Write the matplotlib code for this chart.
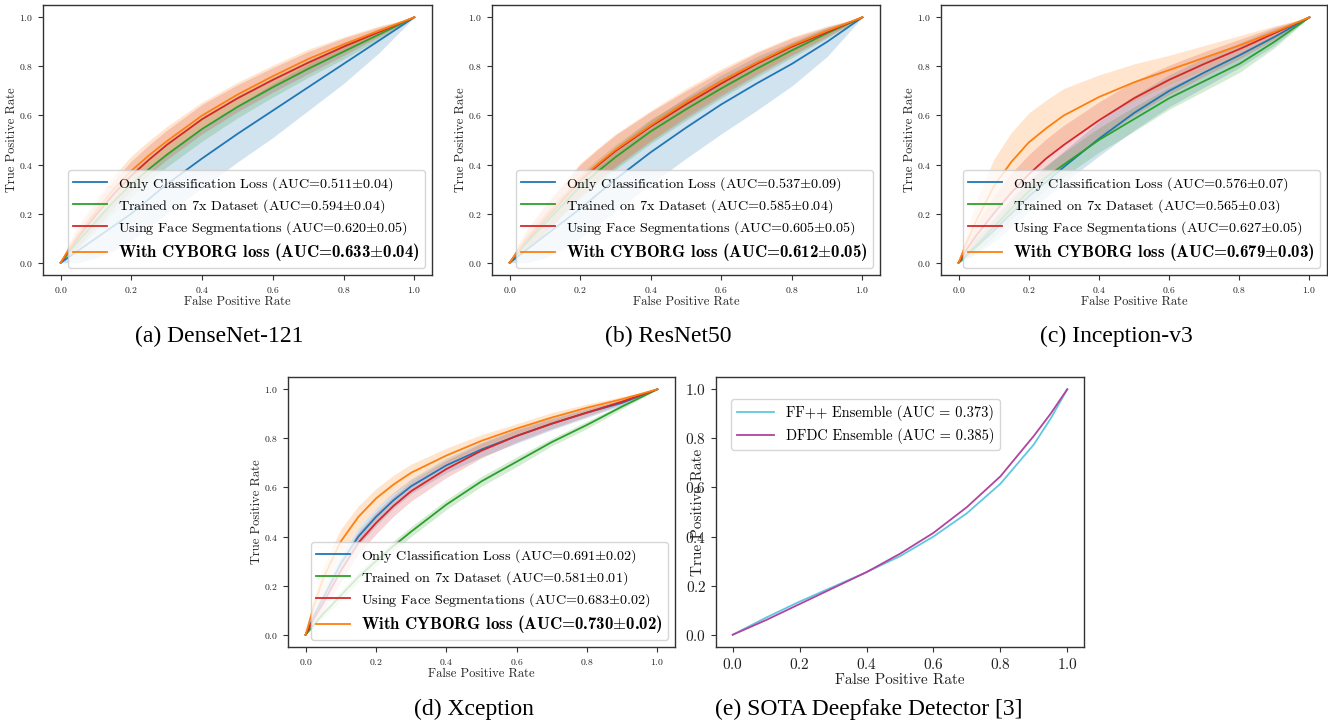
import numpy as np
import matplotlib.pyplot as plt

plt.rcParams['mathtext.fontset'] = 'cm'
plt.rcParams['axes.formatter.use_mathtext'] = True

FPR = [0, 0.025, 0.05, 0.1, 0.15, 0.2, 0.25, 0.3, 0.4, 0.5, 0.6, 0.7, 0.8, 0.9, 1.0]

names = ['Only Classification Loss', 'Trained on 7x Dataset',
         'Using Face Segmentations', 'With CYBORG loss']
colors = ['tab:blue', 'tab:green', 'tab:red', 'tab:orange']

# (a) DenseNet-121
a_tpr = [
    [0, 0.025, 0.05, 0.1, 0.15, 0.2, 0.26, 0.32, 0.425, 0.525, 0.62, 0.715, 0.81, 0.905, 1],
    [0, 0.047, 0.09, 0.17, 0.25, 0.32, 0.382, 0.44, 0.545, 0.635, 0.715, 0.79, 0.86, 0.93, 1],
    [0, 0.055, 0.105, 0.195, 0.28, 0.355, 0.42, 0.48, 0.585, 0.67, 0.745, 0.815, 0.88, 0.94, 1],
    [0, 0.06, 0.115, 0.21, 0.3, 0.375, 0.438, 0.495, 0.6, 0.685, 0.76, 0.83, 0.89, 0.945, 1],
]
a_std = [
    [0, 0.03, 0.05, 0.08, 0.1, 0.11, 0.115, 0.12, 0.12, 0.115, 0.11, 0.095, 0.08, 0.05, 0],
    [0, 0.02, 0.03, 0.04, 0.045, 0.05, 0.05, 0.05, 0.05, 0.045, 0.04, 0.035, 0.03, 0.02, 0],
    [0, 0.025, 0.04, 0.05, 0.055, 0.06, 0.06, 0.06, 0.06, 0.055, 0.05, 0.045, 0.035, 0.02, 0],
    [0, 0.025, 0.04, 0.05, 0.055, 0.06, 0.06, 0.06, 0.055, 0.05, 0.045, 0.04, 0.03, 0.02, 0],
]
a_auc = ['0.511', '0.594', '0.620', '0.633']
a_aucstd = ['0.04', '0.04', '0.05', '0.04']

# (b) ResNet50
b_tpr = [
    [0, 0.028, 0.055, 0.11, 0.165, 0.22, 0.28, 0.34, 0.45, 0.55, 0.645, 0.73, 0.81, 0.9, 1],
    [0, 0.045, 0.085, 0.16, 0.235, 0.31, 0.372, 0.43, 0.535, 0.625, 0.71, 0.79, 0.865, 0.935, 1],
    [0, 0.05, 0.095, 0.175, 0.255, 0.335, 0.397, 0.455, 0.555, 0.645, 0.73, 0.81, 0.88, 0.94, 1],
    [0, 0.052, 0.1, 0.18, 0.26, 0.34, 0.402, 0.46, 0.56, 0.655, 0.74, 0.815, 0.885, 0.945, 1],
]
b_std = [
    [0, 0.035, 0.06, 0.09, 0.11, 0.12, 0.125, 0.13, 0.13, 0.125, 0.12, 0.11, 0.09, 0.06, 0],
    [0, 0.02, 0.03, 0.04, 0.045, 0.05, 0.05, 0.05, 0.05, 0.045, 0.04, 0.035, 0.03, 0.02, 0],
    [0, 0.025, 0.04, 0.055, 0.06, 0.065, 0.065, 0.065, 0.06, 0.055, 0.05, 0.045, 0.035, 0.02, 0],
    [0, 0.025, 0.04, 0.055, 0.06, 0.065, 0.065, 0.065, 0.06, 0.055, 0.05, 0.045, 0.035, 0.02, 0],
]
b_auc = ['0.537', '0.585', '0.605', '0.612']
b_aucstd = ['0.09', '0.04', '0.05', '0.05']

# (c) Inception-v3
c_tpr = [
    [0, 0.033, 0.065, 0.13, 0.2, 0.27, 0.33, 0.39, 0.505, 0.61, 0.7, 0.775, 0.845, 0.92, 1],
    [0, 0.036, 0.07, 0.145, 0.22, 0.29, 0.348, 0.4, 0.5, 0.585, 0.67, 0.74, 0.81, 0.9, 1],
    [0, 0.058, 0.11, 0.2, 0.285, 0.36, 0.425, 0.48, 0.58, 0.67, 0.745, 0.81, 0.87, 0.935, 1],
    [0, 0.09, 0.17, 0.31, 0.41, 0.49, 0.548, 0.6, 0.675, 0.735, 0.785, 0.835, 0.885, 0.94, 1],
]
c_std = [
    [0, 0.015, 0.03, 0.045, 0.055, 0.06, 0.063, 0.065, 0.07, 0.07, 0.065, 0.06, 0.05, 0.035, 0],
    [0, 0.015, 0.03, 0.04, 0.045, 0.05, 0.05, 0.05, 0.05, 0.05, 0.045, 0.04, 0.035, 0.025, 0],
    [0, 0.03, 0.05, 0.07, 0.08, 0.08, 0.08, 0.08, 0.075, 0.07, 0.06, 0.05, 0.04, 0.025, 0],
    [0, 0.045, 0.08, 0.11, 0.12, 0.12, 0.115, 0.11, 0.09, 0.075, 0.06, 0.05, 0.04, 0.025, 0],
]
c_auc = ['0.576', '0.565', '0.627', '0.679']
c_aucstd = ['0.07', '0.03', '0.05', '0.03']

# (d) Xception
d_tpr = [
    [0, 0.08, 0.15, 0.29, 0.4, 0.48, 0.548, 0.605, 0.69, 0.755, 0.81, 0.86, 0.905, 0.945, 1],
    [0, 0.043, 0.085, 0.16, 0.235, 0.3, 0.362, 0.42, 0.53, 0.625, 0.705, 0.785, 0.855, 0.93, 1],
    [0, 0.07, 0.13, 0.26, 0.375, 0.455, 0.525, 0.585, 0.675, 0.75, 0.81, 0.86, 0.905, 0.95, 1],
    [0, 0.125, 0.23, 0.38, 0.48, 0.555, 0.612, 0.66, 0.73, 0.79, 0.84, 0.885, 0.925, 0.96, 1],
]
d_std = [
    [0, 0.02, 0.03, 0.035, 0.035, 0.035, 0.032, 0.03, 0.03, 0.03, 0.03, 0.025, 0.02, 0.01, 0],
    [0, 0.01, 0.015, 0.02, 0.02, 0.02, 0.02, 0.02, 0.02, 0.02, 0.02, 0.015, 0.015, 0.01, 0],
    [0, 0.025, 0.035, 0.045, 0.045, 0.045, 0.042, 0.04, 0.035, 0.03, 0.025, 0.02, 0.015, 0.01, 0],
    [0, 0.035, 0.05, 0.05, 0.045, 0.04, 0.038, 0.035, 0.03, 0.025, 0.02, 0.02, 0.015, 0.01, 0],
]
d_auc = ['0.691', '0.581', '0.683', '0.730']
d_aucstd = ['0.02', '0.01', '0.02', '0.02']

# (e) SOTA detectors
FPR_E = [0, 0.1, 0.2, 0.3, 0.4, 0.5, 0.6, 0.7, 0.8, 0.9, 0.95, 1.0]
ffpp_tpr = [0, 0.07, 0.135, 0.195, 0.255, 0.32, 0.40, 0.495, 0.615, 0.775, 0.88, 1]
dfdc_tpr = [0, 0.06, 0.125, 0.19, 0.255, 0.33, 0.415, 0.52, 0.645, 0.81, 0.9, 1]
e_names = ['FF++ Ensemble (AUC = 0.373)', 'DFDC Ensemble (AUC = 0.385)']

captions = ['(a) DenseNet-121', '(b) ResNet50', '(c) Inception-v3',
            '(d) Xception', '(e) SOTA Deepfake Detector [3]']

W, H = 1328, 724
fig = plt.figure(figsize=(W / 100, H / 100), dpi=100)


def box(l, t, r, b):
    return [l / W, 1 - b / H, (r - l) / W, (b - t) / H]


def style(ax, tick, lab, pad=4):
    for s in ax.spines.values():
        s.set_color('#333333')
        s.set_linewidth(1.0)
    ax.tick_params(labelsize=tick, colors='#333333', labelcolor='#222222')
    for t in ax.get_xticklabels() + ax.get_yticklabels():
        t.set_family('cmr10')
    ax.set_xlabel('False Positive Rate', family='cmr10', fontsize=lab,
                  color='#222222', labelpad=1)
    ax.set_ylabel('True Positive Rate', family='cmr10', fontsize=lab,
                  color='#222222', labelpad=pad)


def roc_panel(rect, tpr, std, auc, aucstd):
    ax = fig.add_axes(rect)
    x = np.array(FPR)
    for i in range(4):
        m = np.array(tpr[i])
        s = np.array(std[i])
        label = names[i] + ' (AUC=' + auc[i] + r'$\pm$' + aucstd[i] + ')'
        ax.plot(x, m, color=colors[i], lw=1.3, label=label)
        ax.fill_between(x, np.clip(m - s, 0, 1), np.clip(m + s, 0, 1),
                        color=colors[i], alpha=0.2, lw=0)
    ax.set_xticks([0, 0.2, 0.4, 0.6, 0.8, 1.0])
    ax.set_yticks([0, 0.2, 0.4, 0.6, 0.8, 1.0])
    style(ax, 7, 9, pad=0.5)
    leg = ax.legend(loc='lower right', prop={'family': 'cmr10', 'size': 10.2},
                    handlelength=2.4, labelspacing=0.3, borderpad=0.35,
                    borderaxespad=0.5)
    txt = leg.get_texts()[3]
    txt.set_family('cmb10')
    txt.set_fontsize(12.1)
    return ax


roc_panel(box(43, 5, 432, 275), a_tpr, a_std, a_auc, a_aucstd)
roc_panel(box(492, 5, 880, 275), b_tpr, b_std, b_auc, b_aucstd)
roc_panel(box(941, 5, 1327, 275), c_tpr, c_std, c_auc, c_aucstd)
roc_panel(box(288, 377, 675, 647), d_tpr, d_std, d_auc, d_aucstd)

ax = fig.add_axes(box(716, 377, 1084, 647))
ax.plot(FPR_E, ffpp_tpr, color='#5ec8e0', lw=1.3, label=e_names[0])
ax.plot(FPR_E, dfdc_tpr, color='#b0449e', lw=1.3, label=e_names[1])
ax.set_xticks([0, 0.2, 0.4, 0.6, 0.8, 1.0])
ax.set_yticks([0, 0.2, 0.4, 0.6, 0.8, 1.0])
style(ax, 11, 11, pad=-14)
ax.legend(loc='upper left', bbox_to_anchor=(0.041, 0.919), borderaxespad=0,
          prop={'family': 'cmr10', 'size': 10.4}, handlelength=2.6)

cap_pos = [(219, 336), (668, 336), (1116, 336), (474, 709), (869, 709)]
for (cx, cy), c in zip(cap_pos, captions):
    fig.text(cx / W, 1 - cy / H, c, ha='center', va='center',
             family='Liberation Serif', fontsize=17)

fig.savefig('out.png', dpi=100)
